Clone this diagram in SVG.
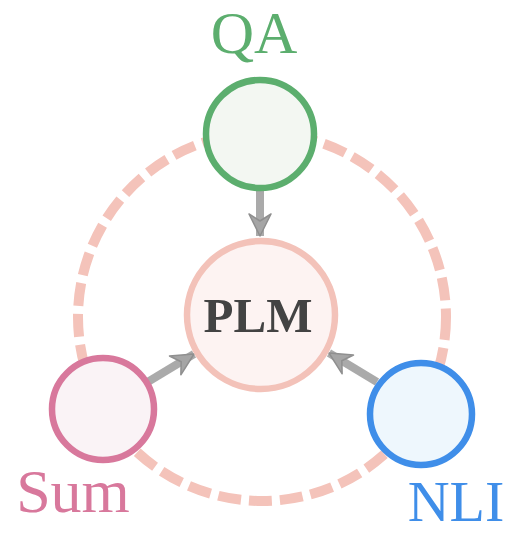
<svg xmlns="http://www.w3.org/2000/svg" width="514" height="534" viewBox="0 0 514 534">
<defs>
<style>
.lbl{font-family:"Liberation Serif","Times New Roman",serif;font-size:60px;text-anchor:middle}
.node{stroke-width:6.5}
.edge{stroke:#aaaaaa;stroke-width:8;fill:none}
</style>
<marker id="ah" viewBox="-24 -12 26 24" refX="0" refY="0" markerWidth="26" markerHeight="24" markerUnits="userSpaceOnUse" orient="auto">
<path d="M0,0 L-22,-11 L-15,0 L-22,11 Z" fill="#a5a5a5" stroke="#8f8f8f" stroke-width="1.5" stroke-linejoin="round"/>
</marker>
</defs>
<rect width="514" height="534" fill="#ffffff"/>
<circle id="ring" cx="262" cy="317" r="184" fill="none" stroke="#f4c3ba" stroke-width="10" stroke-dasharray="23 8"/>
<g id="connectors">
<line class="edge" x1="260" y1="190" x2="260" y2="236" marker-end="url(#ah)"/>
<line class="edge" x1="146" y1="383" x2="194" y2="354" marker-end="url(#ah)"/>
<line class="edge" x1="377" y1="382" x2="329" y2="353" marker-end="url(#ah)"/>
</g>
<g id="plm">
<circle class="node" cx="261" cy="315" r="74" fill="#fdf3f2" stroke="#f3c2b9" stroke-width="7"/>
<text x="258" y="332" class="lbl" style="font-size:49px;font-weight:bold" fill="#434343">PLM</text>
</g>
<g id="qa">
<circle class="node" cx="260" cy="134" r="54" fill="#f3f7f2" stroke="#5cae6e"/>
<text x="254" y="53" class="lbl" fill="#5cae6e">QA</text>
</g>
<g id="sum">
<circle class="node" cx="103" cy="409" r="51" fill="#faf3f6" stroke="#d8789c"/>
<text x="73" y="512" class="lbl" style="font-size:62px" fill="#d8789c">Sum</text>
</g>
<g id="nli">
<circle class="node" cx="421" cy="414" r="51" fill="#eef7fd" stroke="#3f8ee9"/>
<text x="456" y="521" class="lbl" style="font-size:58px" fill="#3f8ee9">NLI</text>
</g>
</svg>
